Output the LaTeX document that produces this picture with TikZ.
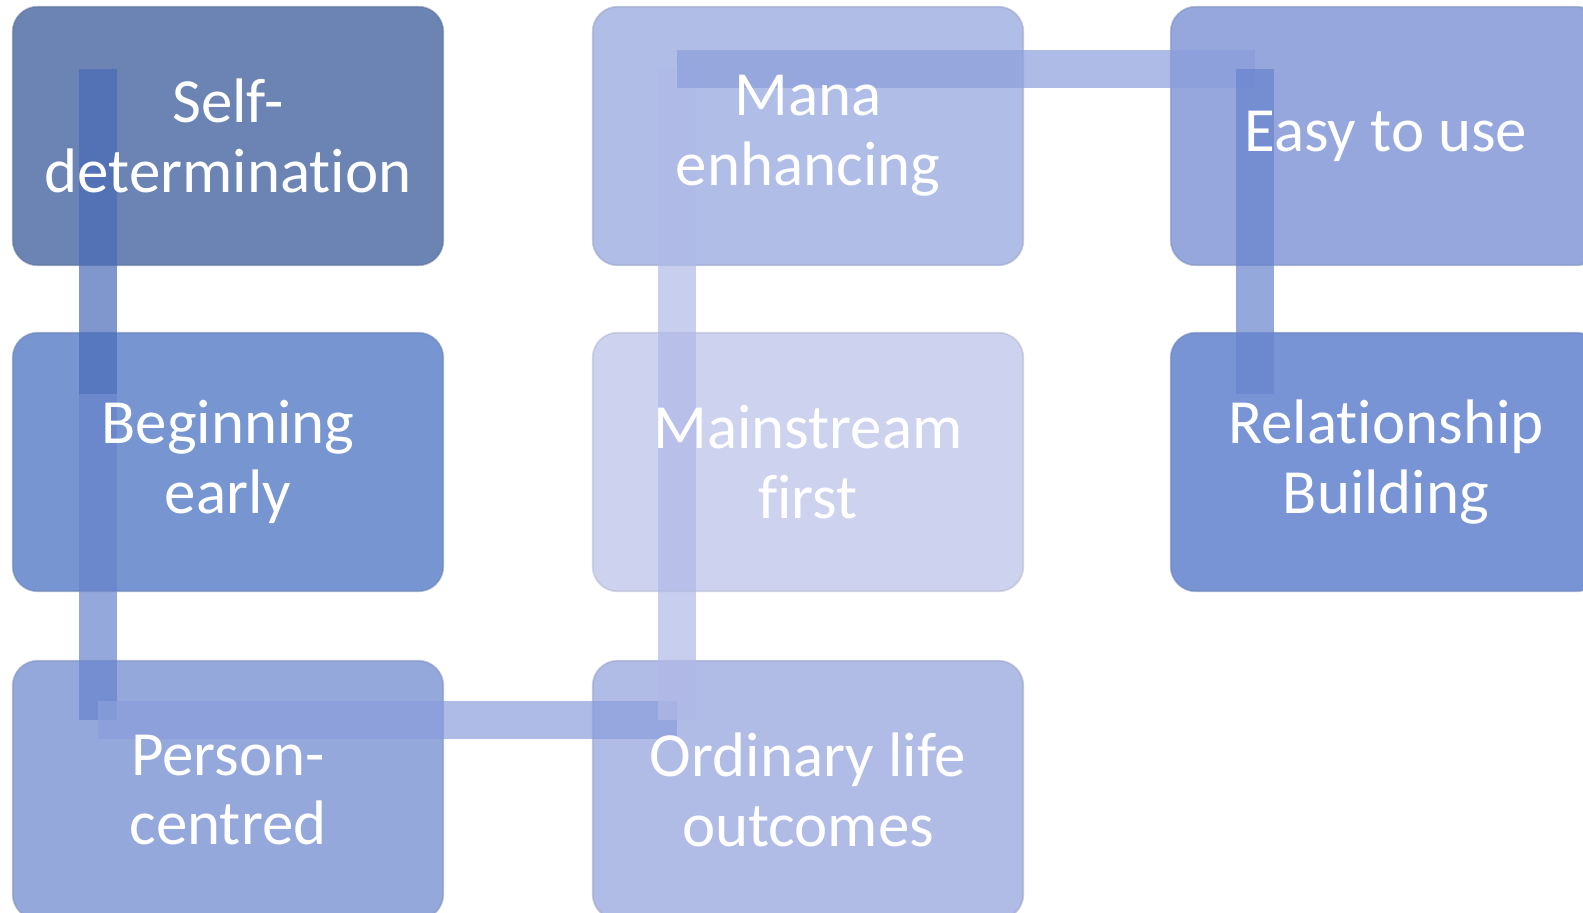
\documentclass[tikz,border=0pt]{standalone}
\usepackage{fontspec}
\setmainfont{Carlito}[Ligatures=NoCommon]

\definecolor{c1}{HTML}{6B84B3}
\definecolor{c2}{HTML}{7795D0}
\definecolor{c3}{HTML}{95A8DB}
\definecolor{c4}{HTML}{B0BCE6}
\definecolor{c5}{HTML}{CDD3EF}
\definecolor{c6}{HTML}{B0BDE6}
\definecolor{c7}{HTML}{95A7DC}
\definecolor{c8}{HTML}{7894D4}
\definecolor{k1}{HTML}{4A6BB8}
\definecolor{k2}{HTML}{6883CD}
\definecolor{k3}{HTML}{8B9EDB}
\definecolor{k4}{HTML}{B0B9E7}

\pgfdeclarelayer{boxes}
\pgfdeclarelayer{bars}
\pgfsetlayers{boxes,bars,main}

\tikzset{
  box/.style={text=white, align=center, minimum width=8.6cm, minimum height=5.16cm,
    font=\fontsize{35.8}{39.7}\selectfont},
  bar/.style={line width=0.76cm, draw opacity=0.7}
}

\begin{document}
\begin{tikzpicture}[x=0.02cm, y=-0.02cm]
      \useasboundingbox (0,0) rectangle (1583,913);
      \foreach \n/\x/\y/\col/\txt in {self/228/136/c1/{Self-\\determination}, begin/228/462/c2/{Beginning\\early},
          person/228/790/c3/{Person-\\centred}, ordinary/808/790/c4/{Ordinary life\\outcomes},
          stream/808/462/c5/{Mainstream\\first}, mana/808/136/c6/{Mana\\enhancing},
          easy/1386/136/c7/{Easy to use}, relation/1386/462/c8/{Relationship\\Building}}{
        \node[box] (\n) at (\x,\y) {\txt};
        \begin{pgfonlayer}{boxes}
          \fill[\col, rounded corners=0.5cm] (\n.south west) rectangle (\n.north east);
          \draw[\col!85!black, opacity=0.5, line width=1pt, rounded corners=0.5cm] (\n.south west) rectangle (\n.north east);
        \end{pgfonlayer}
      }
      \foreach \i/\x/\y in {1/98/69, 2/98/394, 3/98/720, 4/677/720, 5/677/394, 6/677/69, 7/1255/69, 8/1255/394}{
        \coordinate (h\i) at (\x,\y);
      }

      \begin{pgfonlayer}{bars}
        \draw[bar, k1] (h1) -- (h2);
        \draw[bar, k2] (h2) -- (h3);
        \draw[bar, k3] (h3) -- (h4);
        \draw[bar, k4] (h4) -- (h5);
        \draw[bar, k4] (h5) -- (h6);
        \draw[bar, k3] (h6) -- (h7);
        \draw[bar, k2] (h7) -- (h8);
      \end{pgfonlayer}
    \end{tikzpicture}
\end{document}
